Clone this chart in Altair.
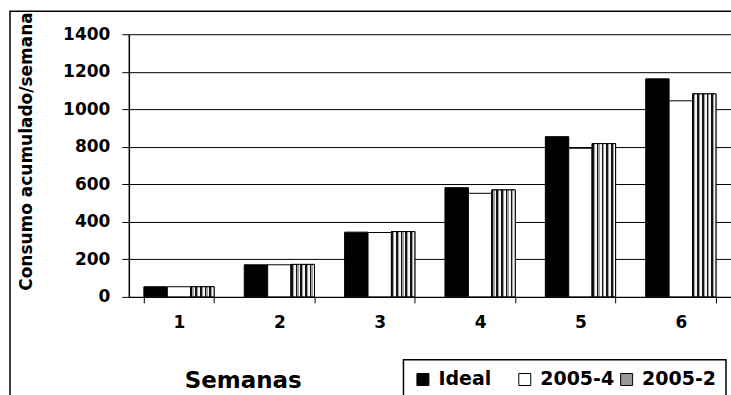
import altair as alt
import pandas as pd

# Weekly cumulative consumption per series
weeks = ["1", "2", "3", "4", "5", "6"]
series_names = ["Ideal", "2005-4", "2005-2"]
ideal = [54, 171, 345, 582, 854, 1162]
serie_2005_4 = [54, 171, 343, 552, 792, 1045]
serie_2005_2 = [54, 173, 348, 570, 817, 1082]
y_ticks = [0, 200, 400, 600, 800, 1000, 1200, 1400]

rows = []
for name, vals in zip(series_names, [ideal, serie_2005_4, serie_2005_2]):
    for w, v in zip(weeks, vals):
        rows.append({"Semana": w, "Serie": name, "Valor": v})
df = pd.DataFrame(rows)

FONT = "DejaVu Sans"


def stripe_gradient(periods=5):
    """Hard-edged linear gradient that mimics a vertical-stripe hatch."""
    bands = [("#151515", 0.0, 0.35), ("#a0a0a0", 0.35, 0.6), ("#f4f4f4", 0.6, 1.0)]
    stops = []
    for k in range(periods):
        for color, a, b in bands:
            stops.append(alt.GradientStop(offset=(k + a) / periods, color=color))
            stops.append(alt.GradientStop(offset=(k + b) / periods, color=color))
    return alt.LinearGradient(gradient="linear", stops=stops, x1=0, x2=1, y1=0, y2=0)


x_enc = alt.X(
    "Semana:N",
    sort=weeks,
    scale=alt.Scale(paddingInner=0.3, paddingOuter=0.15),
    axis=alt.Axis(
        labelAngle=0,
        tickBand="extent",
        tickSize=6,
        tickColor="black",
        tickWidth=1,
        domainColor="black",
        domainWidth=1,
        labelFont=FONT,
        labelFontSize=17,
        labelFontWeight="bold",
        labelColor="black",
        labelPadding=12,
        title="Semanas",
        titleFont=FONT,
        titleFontSize=23,
        titleFontWeight="bold",
        titleColor="black",
        titleX=114,
        titleY=84,
        titleAlign="center",
        titleBaseline="middle",
        grid=False,
    ),
)

y_enc = alt.Y(
    "Valor:Q",
    scale=alt.Scale(domain=[0, 1400], nice=False),
    axis=alt.Axis(
        values=y_ticks,
        format="d",
        grid=True,
        gridColor="black",
        gridWidth=1,
        gridOpacity=1,
        tickSize=7,
        tickColor="black",
        domainColor="black",
        domainWidth=1.5,
        labelFont=FONT,
        labelFontSize=17,
        labelFontWeight="bold",
        labelColor="black",
        labelPadding=12,
        title="Consumo acumulado/semana",
        titleFont=FONT,
        titleFontSize=17,
        titleFontWeight="bold",
        titleColor="black",
        titleX=-102,
        titleY=117,
        titleAlign="center",
        titleBaseline="middle",
    ),
)

offset_enc = alt.XOffset(
    "Serie:N",
    sort=series_names,
    scale=alt.Scale(domain=series_names, paddingInner=0, paddingOuter=0),
)

bars = alt.Chart(df).mark_bar(stroke="black", strokeWidth=1).encode(
    x=x_enc,
    y=y_enc,
    xOffset=offset_enc,
    color=alt.Color(
        "Serie:N",
        sort=series_names,
        scale=alt.Scale(domain=series_names, range=["#000000", "#ffffff", "#9a9a9a"]),
        legend=alt.Legend(
            orient="none",
            legendX=275,
            legendY=326,
            direction="horizontal",
            title=None,
            symbolType="square",
            symbolSize=144,
            symbolStrokeColor="black",
            symbolStrokeWidth=1,
            symbolOpacity=1,
            labelFont=FONT,
            labelFontSize=19,
            labelFontWeight="bold",
            labelColor="black",
            labelOffset=6,
            columnPadding=3,
            gridAlign="all",
            padding=10,
            strokeColor="black",
            fillColor="white",
        ),
    ),
)

striped = (
    alt.Chart(df)
    .transform_filter(alt.datum.Serie == "2005-2")
    .mark_bar(stroke="black", strokeWidth=1, fill=stripe_gradient(5))
    .encode(x=x_enc, y=y_enc, xOffset=offset_enc)
)

frame = (
    alt.Chart(pd.DataFrame({"k": [0]}))
    .mark_rect(fillOpacity=0, stroke="black", strokeWidth=1.5)
    .encode(
        x=alt.value(-119),
        x2=alt.value(640),
        y=alt.value(-23),
        y2=alt.value(400),
    )
)

chart = (
    alt.layer(frame, bars, striped)
    .properties(
        width=603,
        height=263,
        padding={"left": 129, "top": 34, "right": 0, "bottom": 100},
        autosize=alt.AutoSizeParams(type="none"),
        background="white",
    )
    .configure_view(strokeWidth=0)
    .configure_legend(strokeWidth=1.5)
)

chart.save("out.html", embed_options={"renderer": "svg", "actions": False})
